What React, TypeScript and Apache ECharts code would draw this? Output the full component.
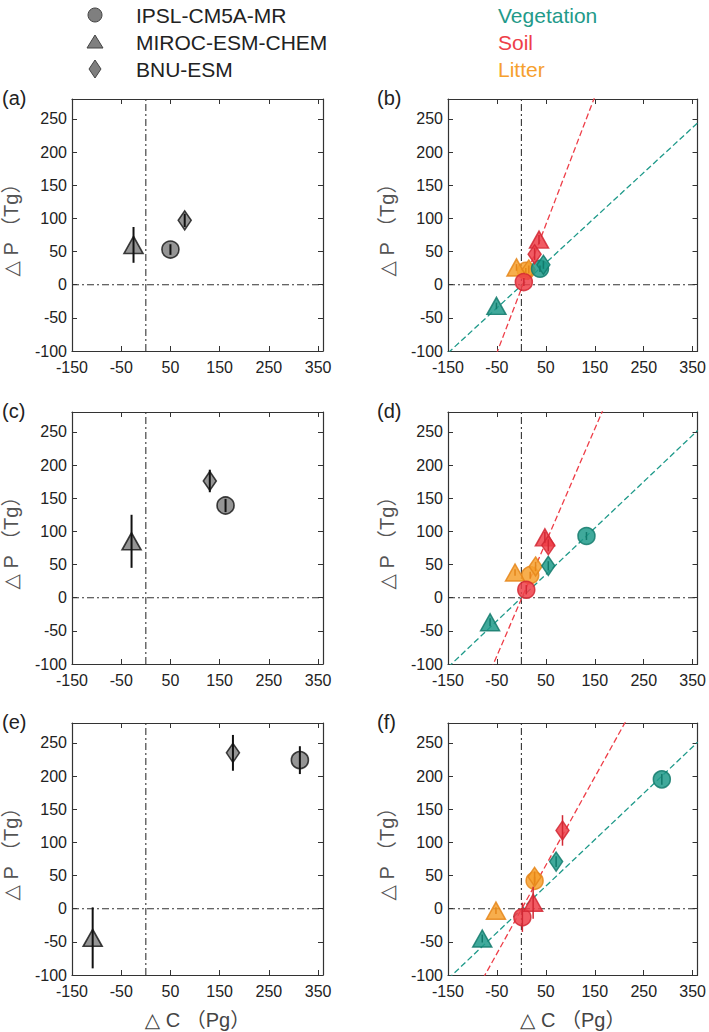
import React, { useEffect, useRef } from "react";
import * as echarts from "echarts";

// ---------- data ----------
const X_MIN = -150;
const X_MAX = 360;
const Y_MIN = -100;
const Y_MAX = 280;
const X_INTERVAL = 100;
const Y_INTERVAL = 50;

const models = ["IPSL-CM5A-MR", "MIROC-ESM-CHEM", "BNU-ESM"];
const modelSymbols = ["circle", "triangle", "diamond"];
const components = ["Vegetation", "Soil", "Litter"];
const componentColors = ["#1f9a8a", "#ee3e48", "#f6a02e"];
const componentEdges = ["#137a6c", "#d22834", "#e5861a"];

// total panels (a), (c), (e): [ΔC, ΔP, error] per model (IPSL, MIROC, BNU)
const totalA = [[50, 53, 8], [-25, 60, 27], [79, 97, 10]];
const totalC = [[162, 139, 10], [-29, 85, 40], [130, 176, 17]];
const totalE = [[313, 224, 21], [-108, -44, 46], [177, 235, 27]];

// component panels (b), (d), (f): per component, per model
const vegB = [[38, 24, 5], [-51, -32, 5], [45, 30, 6]];
const soilB = [[5, 4, 6], [36, 68, 7], [27, 46, 9]];
const litB = [[9, 21, 4], [-10, 26, 5], [15, 23, 6]];

const vegD = [[133, 93, 6], [-64, -37, 6], [55, 48, 7]];
const soilD = [[10, 12, 7], [48, 91, 8], [55, 79, 9]];
const litD = [[18, 34, 5], [-13, 38, 5], [29, 47, 7]];

const vegF = [[287, 195, 8], [-80, -45, 6], [71, 71, 8]];
const soilF = [[2, -13, 22], [24, 9, 24], [84, 118, 23]];
const litF = [[27, 42, 6], [-52, -3, 5], [27, 48, 8]];

// regression lines [slope, intercept] for vegetation and soil
const fitB = [[0.68, -1], [1.93, -6]];
const fitD = [[0.7, 0], [1.71, -2]];
const fitF = [[0.7, -1], [1.33, -1]];

const panelLabels = ["(a)", "(b)", "(c)", "(d)", "(e)", "(f)"];
const xTitle = "△ C （Pg）";
const yTitle = "△ P （Tg）";

// ---------- layout ----------
const colLeft = [71, 448];
const rowTop = [99, 412, 723];
const gridW = 252;
const gridH = 252;
const FONT = "'Liberation Sans', Arial, 'DejaVu Sans', 'Noto Sans CJK SC', sans-serif";

const symbolSizes: any[] = [17, [19, 17], [13, 19]];

function buildOption() {
  const grids: any[] = [];
  const xAxes: any[] = [];
  const yAxes: any[] = [];
  const series: any[] = [];
  const graphics: any[] = [];

  const totals = [totalA, totalC, totalE];
  const comps = [
    [vegB, soilB, litB],
    [vegD, soilD, litD],
    [vegF, soilF, litF],
  ];
  const fits = [fitB, fitD, fitF];

  for (let p = 0; p < 6; p++) {
    const row = Math.floor(p / 2);
    const col = p % 2;
    grids.push({
      left: colLeft[col],
      top: rowTop[row],
      width: gridW,
      height: gridH,
      show: false,
      containLabel: false,
    });
    const axLine = { show: true, lineStyle: { color: "#333", width: 1.2 } };
    const tick = { show: true, inside: true, length: 5, lineStyle: { color: "#333", width: 1 } };
    const isBottom = row === 2;
    xAxes.push({
      type: "value",
      gridIndex: p,
      position: "bottom",
      min: X_MIN,
      max: X_MAX,
      interval: X_INTERVAL,
      axisLine: { ...axLine, onZero: false },
      axisTick: tick,
      splitLine: { show: false },
      axisLabel: {
        show: true,
        color: "#222",
        fontSize: 16,
        fontFamily: FONT,
        margin: 8,
        showMaxLabel: false,
        formatter: (v: number) => ((v - X_MIN) % X_INTERVAL === 0 ? String(v) : ""),
      },
      name: isBottom ? xTitle : "",
      nameLocation: "middle",
      nameGap: 35,
      nameTextStyle: { color: "#444", fontSize: 20, fontFamily: FONT },
    });
    xAxes.push({
      type: "value",
      gridIndex: p,
      position: "top",
      min: X_MIN,
      max: X_MAX,
      interval: X_INTERVAL,
      axisLine: { ...axLine, onZero: false },
      axisTick: tick,
      splitLine: { show: false },
      axisLabel: { show: false },
    });
    yAxes.push({
      type: "value",
      gridIndex: p,
      position: "left",
      min: Y_MIN,
      max: Y_MAX,
      interval: Y_INTERVAL,
      axisLine: { ...axLine, onZero: false },
      axisTick: tick,
      splitLine: { show: false },
      axisLabel: {
        show: true,
        color: "#222",
        fontSize: 16,
        fontFamily: FONT,
        margin: 5,
        showMaxLabel: false,
        formatter: (v: number) => ((v - Y_MIN) % Y_INTERVAL === 0 ? String(v) : ""),
      },
      name: yTitle,
      nameLocation: "middle",
      nameGap: 51,
      nameTextStyle: { color: "#555", fontSize: 20, fontFamily: FONT },
    });
    yAxes.push({
      type: "value",
      gridIndex: p,
      position: "right",
      min: Y_MIN,
      max: Y_MAX,
      interval: Y_INTERVAL,
      axisLine: { ...axLine, onZero: false },
      axisTick: tick,
      splitLine: { show: false },
      axisLabel: { show: false },
    });

    const xi = p * 2;
    const yi = p * 2;

    // reference lines at x = 0 and y = 0
    const refStyle = { color: "#333", width: 1.1, type: [7, 3, 2, 3] };
    series.push({
      type: "line",
      xAxisIndex: xi,
      yAxisIndex: yi,
      data: [[0, Y_MIN], [0, Y_MAX]],
      symbol: "none",
      lineStyle: refStyle,
      silent: true,
      z: 1,
    });
    series.push({
      type: "line",
      xAxisIndex: xi,
      yAxisIndex: yi,
      data: [[X_MIN, 0], [X_MAX, 0]],
      symbol: "none",
      lineStyle: refStyle,
      silent: true,
      z: 1,
    });

    const errSeries = (pts: number[][], color: string, width: number) => ({
      type: "custom",
      xAxisIndex: xi,
      yAxisIndex: yi,
      data: pts.map((d) => [d[0], d[1] - d[2], d[1] + d[2]]),
      encode: { x: 0, y: [1, 2] },
      clip: true,
      z: 4,
      silent: true,
      renderItem: (_params: any, api: any) => {
        const a = api.coord([api.value(0), api.value(1)]);
        const b = api.coord([api.value(0), api.value(2)]);
        return {
          type: "line",
          shape: { x1: a[0], y1: a[1], x2: b[0], y2: b[1] },
          style: { stroke: color, lineWidth: width },
        };
      },
    });

    if (col === 0) {
      const pts = totals[row];
      for (let m = 0; m < 3; m++) {
        series.push({
          type: "scatter",
          name: models[m],
          xAxisIndex: xi,
          yAxisIndex: yi,
          data: [[pts[m][0], pts[m][1]]],
          symbol: modelSymbols[m],
          symbolSize: symbolSizes[m],
          itemStyle: { color: "#7b7b7b", borderColor: "#111", borderWidth: 1.6 },
          z: 3,
        });
      }
      series.push(errSeries(pts, "#111", 2));
    } else {
      const fit = fits[row];
      for (let c = 0; c < 2; c++) {
        const [s, b] = fit[c];
        series.push({
          type: "line",
          xAxisIndex: xi,
          yAxisIndex: yi,
          data: [[X_MIN, s * X_MIN + b], [X_MAX, s * X_MAX + b]],
          symbol: "none",
          clip: true,
          lineStyle: { color: componentColors[c], width: 1.3, type: [6, 3] },
          silent: true,
          z: 2,
        });
      }
      const sets = comps[row];
      const order = [2, 0, 1];
      for (const c of order) {
        const pts = sets[c];
        for (let m = 0; m < 3; m++) {
          series.push({
            type: "scatter",
            name: components[c] + " " + models[m],
            xAxisIndex: xi,
            yAxisIndex: yi,
            data: [[pts[m][0], pts[m][1]]],
            symbol: modelSymbols[m],
            symbolSize: symbolSizes[m],
            itemStyle: {
              color: componentColors[c],
              opacity: 0.85,
              borderColor: componentEdges[c],
              borderWidth: 1.5,
            },
            z: 3,
          });
        }
        series.push(errSeries(pts, componentEdges[c], 1.5));
      }
    }

    graphics.push({
      type: "text",
      left: col === 0 ? 2 : 377,
      top: rowTop[row] - 11,
      style: { text: panelLabels[p], fill: "#222", font: `20px ${FONT}` },
    });
  }

  // legend: models
  const legendRows = [15, 42, 69];
  const lx = 95;
  graphics.push({
    type: "circle",
    shape: { cx: lx, cy: legendRows[0], r: 7 },
    style: { fill: "#7f7f7f", stroke: "#444", lineWidth: 1 },
  });
  graphics.push({
    type: "polygon",
    shape: {
      points: [
        [lx, legendRows[1] - 7],
        [lx - 8, legendRows[1] + 6],
        [lx + 8, legendRows[1] + 6],
      ],
    },
    style: { fill: "#7f7f7f", stroke: "#444", lineWidth: 1 },
  });
  graphics.push({
    type: "polygon",
    shape: {
      points: [
        [lx, legendRows[2] - 9],
        [lx + 6, legendRows[2]],
        [lx, legendRows[2] + 9],
        [lx - 6, legendRows[2]],
      ],
    },
    style: { fill: "#7f7f7f", stroke: "#444", lineWidth: 1 },
  });
  for (let m = 0; m < 3; m++) {
    graphics.push({
      type: "text",
      x: 136,
      y: legendRows[m],
      style: {
        text: models[m],
        fill: "#222",
        font: `21px ${FONT}`,
        textVerticalAlign: "middle",
        verticalAlign: "middle",
      },
    });
    graphics.push({
      type: "text",
      x: 498,
      y: legendRows[m],
      style: {
        text: components[m],
        fill: componentColors[m],
        font: `21px ${FONT}`,
        textVerticalAlign: "middle",
        verticalAlign: "middle",
      },
    });
  }

  return {
    animation: false,
    backgroundColor: "#ffffff",
    grid: grids,
    xAxis: xAxes,
    yAxis: yAxes,
    series,
    graphic: graphics,
  };
}

export default function App() {
  const ref = useRef<HTMLDivElement>(null);
  useEffect(() => {
    if (!ref.current) return;
    const chart = echarts.init(ref.current, undefined, { renderer: "svg" });
    chart.setOption(buildOption() as any);
    return () => chart.dispose();
  }, []);
  return (
    <div
      ref={ref}
      style={{ position: "absolute", left: 0, top: 0, width: 709, height: 1032, background: "#fff" }}
    />
  );
}
